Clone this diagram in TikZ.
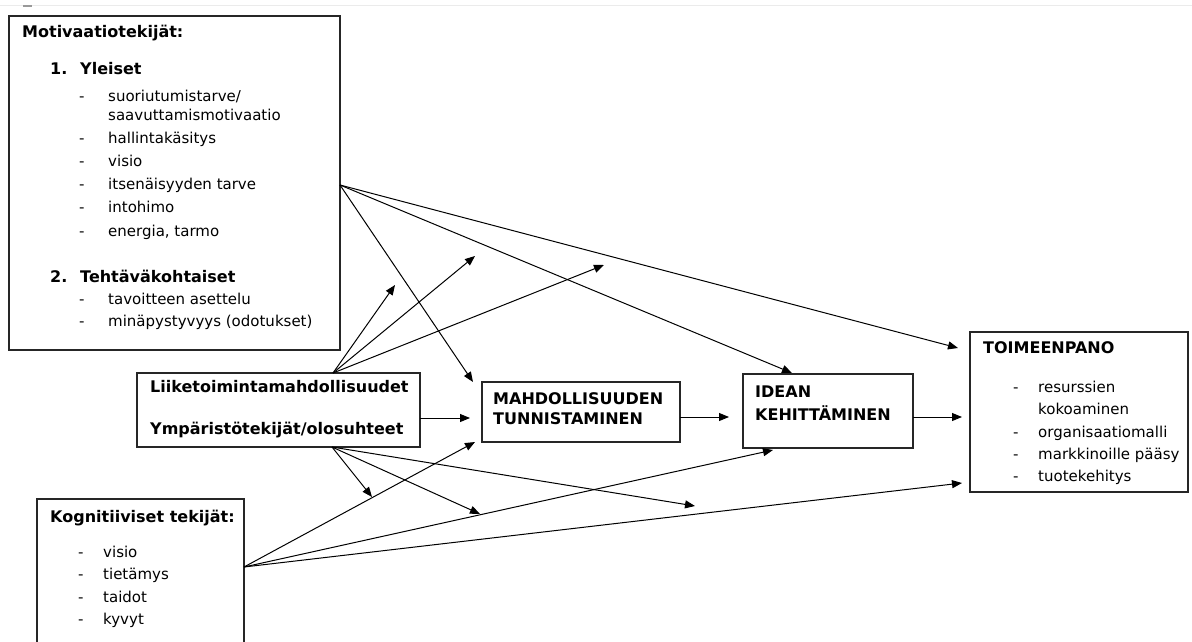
\documentclass[tikz,border=0pt]{standalone}
\usepackage{fontspec}
\setmainfont{DejaVu Sans}
\usetikzlibrary{arrows.meta}
\begin{document}
\begin{tikzpicture}[x=1pt,y=-1pt,
  frame/.style={draw=black!85,line width=1.2pt,inner sep=0pt,outer sep=0pt,anchor=north west},
  txt/.style={inner sep=0pt,anchor=west,text height=11pt,text depth=3pt,font=\fontsize{15}{18}\selectfont},
  btxt/.style={txt,text height=11.5pt,font=\fontsize{16}{19}\selectfont\bfseries},
  arr/.style={line width=1pt,-{Triangle[length=10pt,width=8pt]}}]
\useasboundingbox (0,0) rectangle (1192,642);
\clip (0,0) rectangle (1192,642);
\fill[white] (0,0) rectangle (1192,642);
% ruler remnants along the top edge
\draw[black!8,line width=1pt] (0,6) -- (1192,6);
\draw[black!40,line width=1.5pt] (23,6) -- (32,6);

% boxes
\node[frame,minimum width=331pt,minimum height=334pt] (mot) at (9,16) {};
\node[frame,minimum width=283pt,minimum height=74pt] (liike) at (137,373) {};
\node[frame,minimum width=198pt,minimum height=60pt] (mahd) at (482,382) {};
\node[frame,minimum width=170pt,minimum height=74pt] (idea) at (743,374) {};
\node[frame,minimum width=218pt,minimum height=160pt] (toim) at (970,332) {};
\node[frame,minimum width=207pt,minimum height=200pt] (kogn) at (37,499) {};

% motivation factors
\node[btxt] (mt0) at (22,33) {Motivaatiotekijät:};
\node[btxt] (mn1) at (50,70) {1.};
\node[btxt] (mh1) at (80,70) {Yleiset};
\foreach \y in {97,139,162,185,208,232,300,322}
  \node[txt] at (79,\y) {-};
\node[txt] (m1) at (108,97) {suoriutumistarve/};
\node[txt] (m2) at (108,117) {saavuttamismotivaatio};
\node[txt] (m3) at (108,139) {hallintakäsitys};
\node[txt] (m4) at (108,162) {visio};
\node[txt] (m5) at (108,185) {itsenäisyyden tarve};
\node[txt] (m6) at (108,208) {intohimo};
\node[txt] (m7) at (108,232) {energia, tarmo};
\node[btxt] (mn2) at (50,278) {2.};
\node[btxt] (mh2) at (80,278) {Tehtäväkohtaiset};
\node[txt] (m8) at (108,300) {tavoitteen asettelu};
\node[txt] (m9) at (108,322) {minäpystyvyys (odotukset)};

% environment
\node[btxt] (l1) at (150,388) {Liiketoimintamahdollisuudet};
\node[btxt] (l2) at (150,430) {Ympäristötekijät/olosuhteet};

% process steps
\node[btxt] (p1) at (493,400) {MAHDOLLISUUDEN};
\node[btxt] (p2) at (493,420) {TUNNISTAMINEN};
\node[btxt] (i1) at (755,393) {IDEAN};
\node[btxt] (i2) at (755,416) {KEHITTÄMINEN};

% implementation
\node[btxt] (t0) at (983,349) {TOIMEENPANO};
\foreach \y in {388,433,455,477}
  \node[txt] at (1013,\y) {-};
\node[txt] (t1) at (1038,388) {resurssien};
\node[txt] (t2) at (1038,410) {kokoaminen};
\node[txt] (t3) at (1038,433) {organisaatiomalli};
\node[txt] (t4) at (1038,455) {markkinoille pääsy};
\node[txt] (t5) at (1038,477) {tuotekehitys};

% cognitive factors
\node[btxt] (k0) at (50,518) {Kognitiiviset tekijät:};
\foreach \y in {553,575,598,620}
  \node[txt] at (78,\y) {-};
\node[txt] (k1) at (103,553) {visio};
\node[txt] (k2) at (103,575) {tietämys};
\node[txt] (k3) at (103,598) {taidot};
\node[txt] (k4) at (103,620) {kyvyt};

% connector end points
\coordinate (ms) at (340,185);
\coordinate (lt) at (333,373);
\coordinate (lb) at (332,447);
\coordinate (ks) at (244,567);
\coordinate (e1) at (473,382);
\coordinate (e2) at (792,373);
\coordinate (e3) at (958,348);
\coordinate (f1) at (395,285);
\coordinate (f2) at (475,256);
\coordinate (f3) at (604,265);
\coordinate (g1) at (372,497);
\coordinate (g2) at (480,514);
\coordinate (g3) at (695,506);
\coordinate (h1) at (475,442);
\coordinate (h2) at (773,450);
\coordinate (h3) at (962,483);
\coordinate (lm) at (470,418);
\coordinate (mi) at (729,417);
\coordinate (it) at (962,417);

% connectors
\draw[arr] (ms) -- (e1);
\draw[arr] (ms) -- (e2);
\draw[arr] (ms) -- (e3);
\draw[arr] (lt) -- (f1);
\draw[arr] (lt) -- (f2);
\draw[arr] (lt) -- (f3);
\draw[arr] (lb) -- (g1);
\draw[arr] (lb) -- (g2);
\draw[arr] (lb) -- (g3);
\draw[arr] (ks) -- (h1);
\draw[arr] (ks) -- (h2);
\draw[arr] (ks) -- (h3);
\draw[arr] (liike.east |- lm) -- (lm);
\draw[arr] (mahd.east |- mi) -- (mi);
\draw[arr] (idea.east |- it) -- (it);
\end{tikzpicture}
\end{document}
